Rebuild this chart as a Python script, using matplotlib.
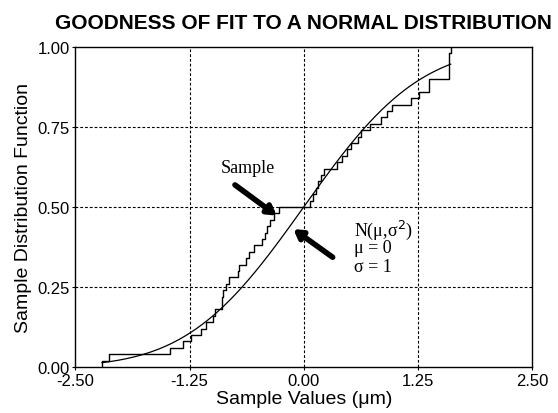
import math
import numpy as np
import matplotlib
matplotlib.use("Agg")
import matplotlib.pyplot as plt

# Sample values (sorted) read from the step function
sample = [-2.21, -2.13, -1.46, -1.32, -1.24, -1.13, -1.07, -0.99, -0.97, -0.90,
          -0.89, -0.88, -0.85, -0.82, -0.72, -0.71, -0.63, -0.60, -0.55, -0.46,
          -0.42, -0.40, -0.37, -0.33, -0.27,
          0.07, 0.10, 0.13, 0.16, 0.19, 0.22, 0.36, 0.42, 0.47, 0.52,
          0.60, 0.63, 0.73, 0.85, 0.91, 0.97, 1.18, 1.26, 1.37, 1.37,
          1.59, 1.59, 1.59, 1.59, 1.61]
mu = 0.0
sigma = 1.0

x_ticks = [-2.50, -1.25, 0.00, 1.25, 2.50]
y_ticks = [0.00, 0.25, 0.50, 0.75, 1.00]

title = "GOODNESS OF FIT TO A NORMAL DISTRIBUTION"
xlabel = "Sample Values (\u03bcm)"
ylabel = "Sample Distribution Function"

xs = np.sort(np.array(sample))
n = len(xs)
F = np.arange(1, n + 1) / n

fig = plt.figure(figsize=(5.58, 4.14), dpi=100)
ax = fig.add_axes([0.1353, 0.1111, 0.818, 0.773])

sans = "Liberation Sans"
serif = "Liberation Serif"

# grid
for xv in x_ticks[1:-1]:
    ax.axvline(xv, color="black", lw=0.8, dashes=(2.5, 1.8), zorder=1)
for yv in y_ticks[1:-1]:
    ax.axhline(yv, color="black", lw=0.8, dashes=(2.5, 1.8), zorder=1)

# ECDF
ax.step(np.concatenate([[xs[0]], xs]), np.concatenate([[0.0], F]),
        where="post", color="black", lw=1.0, zorder=3)

# normal CDF
xc = np.linspace(xs.min(), xs.max(), 400)
erf = np.vectorize(math.erf)
ax.plot(xc, 0.5 * (1 + erf((xc - mu) / (sigma * math.sqrt(2)))),
        color="black", lw=0.9, zorder=3)

ax.set_xlim(x_ticks[0], x_ticks[-1])
ax.set_ylim(y_ticks[0], y_ticks[-1])
ax.set_xticks(x_ticks)
ax.set_yticks(y_ticks)
ax.set_xticklabels([f"{v:.2f}" for v in x_ticks], fontfamily=sans, fontsize=12)
ax.set_yticklabels([f"{v:.2f}" for v in y_ticks], fontfamily=sans, fontsize=12)
ax.tick_params(direction="out", length=2.5, width=0.8, pad=1.5)
for s in ax.spines.values():
    s.set_linewidth(1.0)
    s.set_color("black")

ax.set_xlabel(xlabel, fontfamily=sans, fontsize=14, labelpad=2)
ax.set_ylabel(ylabel, fontfamily=sans, fontsize=14, labelpad=4)
fig.text(0.544, 0.944, title, fontfamily=sans, fontsize=15, fontweight="bold",
         ha="center", va="center")

# annotations
ax.text(-0.61, 0.622, "Sample", fontfamily=serif, fontsize=13, ha="center", va="center")
ax.annotate("", xy=(-0.296, 0.473), xytext=(-0.753, 0.569),
            arrowprops=dict(arrowstyle="-|>,head_length=0.5,head_width=0.3",
                            lw=4, color="black", shrinkA=0, shrinkB=0))
ax.annotate("", xy=(-0.114, 0.431), xytext=(0.317, 0.343),
            arrowprops=dict(arrowstyle="-|>,head_length=0.5,head_width=0.3",
                            lw=4, color="black", shrinkA=0, shrinkB=0))
ax.text(0.55, 0.431, "N(\u03bc,\u03c3$^2$)", fontfamily=serif, fontsize=13, ha="left", va="center")
ax.text(0.55, 0.372, "\u03bc = 0", fontfamily=serif, fontsize=13, ha="left", va="center")
ax.text(0.55, 0.3125, "\u03c3 = 1", fontfamily=serif, fontsize=13, ha="left", va="center")

fig.savefig("out.png", dpi=100)
